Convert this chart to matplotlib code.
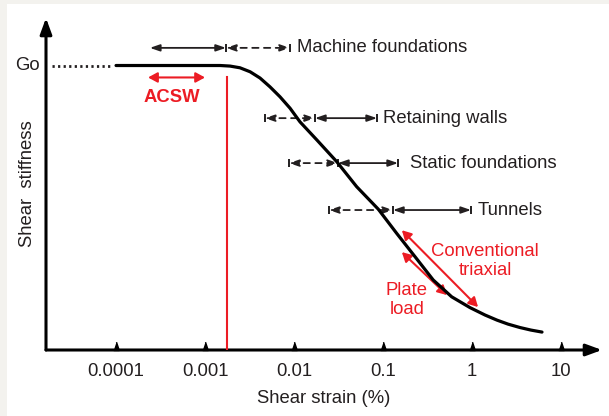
import matplotlib
matplotlib.use('Agg')
import matplotlib.pyplot as plt
import matplotlib.transforms as mtransforms
from matplotlib.patches import Rectangle

plt.rcParams['font.family'] = ['Liberation Sans', 'DejaVu Sans']

# stiffness degradation curve (G/Go vs shear strain %)
strain = [0.0001, 0.00148, 0.00191, 0.00247, 0.00321, 0.00415, 0.00537, 0.00696,
          0.00902, 0.01167, 0.0181, 0.0302, 0.0506, 0.0885, 0.1425, 0.229, 0.367,
          0.591, 0.95, 1.40, 1.91, 2.54, 3.46, 4.60, 6.12]
stiffness = [1.0, 1.0, 0.998, 0.992, 0.978, 0.956, 0.925, 0.890,
             0.850, 0.802, 0.738, 0.662, 0.574, 0.495, 0.410, 0.328, 0.246,
             0.187, 0.149, 0.123, 0.105, 0.091, 0.079, 0.070, 0.063]
go_dotted = [0.000019, 0.00009]

decades = [0.0001, 0.001, 0.01, 0.1, 1, 10]
decade_labels = ['0.0001', '0.001', '0.01', '0.1', '1', '10']

# application ranges
applications = ['Machine foundations', 'Retaining walls', 'Static foundations', 'Tunnels']
row_level = [1.062, 0.815, 0.657, 0.492]
dashed_start = [0.00172, 0.0047, 0.0088, 0.0247]
dashed_end = [0.0090, 0.0172, 0.0312, 0.1295]
solid_start = [0.00024, 0.0172, 0.0312, 0.1295]
solid_end = [0.00172, 0.0857, 0.1476, 0.975]
label_x = [0.0108, 0.1, 0.201, 1.17]

acsw_range = [0.000229, 0.001]
acsw_limit = 0.00177
triaxial_range = [(0.163, 0.421), (1.17, 0.151)]
plate_range = [(0.163, 0.344), (0.524, 0.193)]

RED = '#ec1c24'
INK = '#231f20'
FS = 13.3

fig = plt.figure(figsize=(6.09, 4.16), dpi=100)
fig.patch.set_facecolor('#f3f2ee')
fig.patches.append(Rectangle((7 / 609, 0), 1, 1 - 4 / 416, transform=fig.transFigure,
                             facecolor='white', edgecolor='none', zorder=-1))

ax = fig.add_axes([46 / 609, 66 / 416, 556 / 609, 332 / 416])
ax.set_facecolor('none')
ax.set_xscale('log')
ax.set_xlim(10 ** -4.787, 10 ** 1.461)
ax.set_ylim(0, 1.167)
for s in ax.spines.values():
    s.set_visible(False)
ax.set_yticks([])
ax.set_xticks(decades, decade_labels)
ax.minorticks_off()
ax.tick_params(axis='x', length=0, pad=9, labelsize=FS, labelcolor=INK)

# axes as arrows
arrow_kw = dict(arrowstyle='-|>,head_length=0.6,head_width=0.22', lw=2.2, color='black',
                mutation_scale=16, shrinkA=0, shrinkB=0)
ax.annotate('', xy=(1, 0), xytext=(0, 0), xycoords='axes fraction', arrowprops=arrow_kw)
ax.annotate('', xy=(0, 1), xytext=(0, 0), xycoords='axes fraction', arrowprops=arrow_kw)

# small triangular tick marks
ax.plot(decades, [0] * len(decades), ls='none', marker=[(-1, 0), (1, 0), (0, 3)],
        ms=12, color='black', clip_on=False, zorder=5)

# curve
ax.plot(strain, stiffness, color='black', lw=2.3, solid_capstyle='round',
        solid_joinstyle='round', zorder=4)
ax.plot(go_dotted, [1, 1], color=INK, lw=2, ls=(0, (0.8, 1.2)), zorder=4)

blend = mtransforms.blended_transform_factory(ax.transAxes, ax.transData)
ax.text(-0.011, 1.0, 'Go', transform=blend, ha='right', va='center', fontsize=FS, color=INK)
ax.text(-0.034, 0.5, 'Shear  stiffness', transform=ax.transAxes, rotation=90,
        ha='center', va='center', fontsize=FS, color=INK)
ax.text(0.50, -0.145, 'Shear strain (%)', transform=ax.transAxes,
        ha='center', va='center', fontsize=FS, color=INK)

# application ranges
head = '<|-|>,head_length=0.58,head_width=0.2'
for name, y, d0, d1, s0, s1, lx in zip(applications, row_level, dashed_start, dashed_end,
                                        solid_start, solid_end, label_x):
    ax.annotate('', xy=(s1, y), xytext=(s0, y),
                arrowprops=dict(arrowstyle=head, lw=1.3, color=INK, mutation_scale=10,
                                shrinkA=0, shrinkB=0))
    ax.annotate('', xy=(d1, y), xytext=(d0, y),
                arrowprops=dict(arrowstyle=head, lw=1.3, color=INK, mutation_scale=10,
                                shrinkA=0, shrinkB=0, linestyle=(0, (3.5, 3))))
    bars = sorted(set([d0, d1, s1]))
    ax.plot(bars, [y] * len(bars), ls='none', marker='|', ms=6, mew=1.4, color=INK)
    ax.text(lx, y, name, ha='left', va='center', fontsize=FS, color=INK)

# red annotations
red_head = '<|-|>,head_length=0.55,head_width=0.3'
red_kw = dict(arrowstyle=red_head, lw=1.5, color=RED, mutation_scale=10, shrinkA=0, shrinkB=0)
ax.annotate('', xy=(acsw_range[1], 0.958), xytext=(acsw_range[0], 0.958), arrowprops=red_kw)
ax.text(0.000425, 0.888, 'ACSW', ha='center', va='center', fontsize=FS,
        fontweight='bold', color=RED)
ax.plot([acsw_limit, acsw_limit], [0, 0.961], color=RED, lw=1.5, zorder=3)

ax.annotate('', xy=triaxial_range[1], xytext=triaxial_range[0], arrowprops=red_kw)
ax.annotate('', xy=plate_range[1], xytext=plate_range[0], arrowprops=red_kw)
ax.text(1.40, 0.312, 'Conventional\ntriaxial', ha='center', va='center', fontsize=FS,
        color=RED, linespacing=1.15)
ax.text(0.186, 0.175, 'Plate\nload', ha='center', va='center', fontsize=FS,
        color=RED, linespacing=1.15)

fig.savefig('out.png', dpi=100, facecolor=fig.get_facecolor())
